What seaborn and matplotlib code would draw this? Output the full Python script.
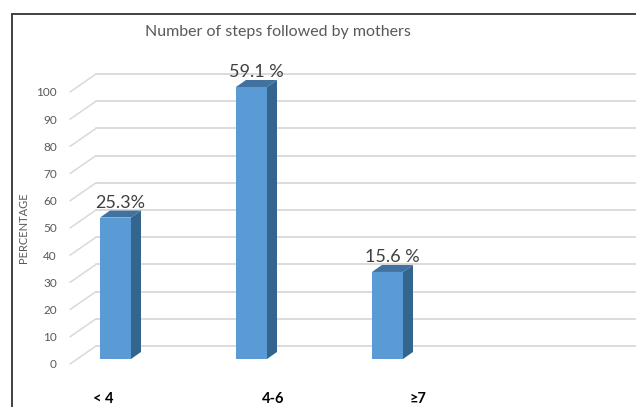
import matplotlib.pyplot as plt
from matplotlib.lines import Line2D
from matplotlib.patches import Polygon
from matplotlib.transforms import ScaledTranslation
import pandas as pd
import seaborn as sns

# chart data
categories = ["< 4", "4-6", "≥7"]
bar_heights = [52, 100, 32]
bar_labels = ["25.3%", "59.1 %", "15.6 %"]
y_ticks = list(range(0, 101, 10))
title = "Number of steps followed by mothers"
y_label = "PERCENTAGE"

# layout (pixels)
W, H, DPI = 636, 407, 100
PX_PER_CAT = 136
FIRST_BAR_X = 115.5
AX_LEFT, AX_RIGHT, AX_TOP, AX_BOTTOM = 70, 636, 92, 364
BAR_DEPTH = (10, 7)
WALL_DEPTH = (26, 18)
BAR_LIFT = 5
XLABEL_SHIFT = [-12, 22, 30]

FRONT, SIDE, TOP = "#5b9bd5", "#33658f", "#41729f"
GRID = "#d9d9d9"
TEXT = "#595959"

sns.set_style("white")
plt.rcParams["font.family"] = ["Lato", "DejaVu Sans"]

fig = plt.figure(figsize=(W / DPI, H / DPI), dpi=DPI)
ax = fig.add_axes([AX_LEFT / W, 1 - AX_BOTTOM / H,
                   (AX_RIGHT - AX_LEFT) / W, (AX_BOTTOM - AX_TOP) / H])

df = pd.DataFrame({"steps": categories, "pct": bar_heights})
sns.barplot(data=df, x="steps", y="pct", color=FRONT, saturation=1,
            width=31 / PX_PER_CAT, linewidth=0, ax=ax, zorder=2)

x0 = -(FIRST_BAR_X - AX_LEFT) / PX_PER_CAT
x1 = (AX_RIGHT - FIRST_BAR_X) / PX_PER_CAT
ax.set_xlim(x0, x1)
ax.set_ylim(0, 100)
px_y = 100 / (AX_BOTTOM - AX_TOP)

# back wall gridlines with the oblique floor edge
gdx, gdy = WALL_DEPTH[0] / PX_PER_CAT, WALL_DEPTH[1] * px_y
for v in y_ticks:
    ax.plot([x0, x0 + gdx], [v, v + gdy], color=GRID, lw=1.1, clip_on=False, zorder=0.5)
    ax.plot([x0 + gdx, x1], [v + gdy, v + gdy], color=GRID, lw=1.3, clip_on=False, zorder=0.5)

# 3D faces of the bars
lift = ScaledTranslation(0, BAR_LIFT / DPI, fig.dpi_scale_trans)
ddx, ddy = BAR_DEPTH[0] / PX_PER_CAT, BAR_DEPTH[1] * px_y
bars = list(ax.patches)
for bar, lbl in zip(bars, bar_labels):
    bar.set_transform(bar.get_data_transform() + lift)
    bar.set_clip_on(False)
    bx, bw, bh = bar.get_x(), bar.get_width(), bar.get_height()
    side = Polygon([(bx + bw, 0), (bx + bw + ddx, ddy), (bx + bw + ddx, bh + ddy), (bx + bw, bh)],
                   closed=True, facecolor=SIDE, edgecolor="none",
                   transform=ax.transData + lift, clip_on=False, zorder=2)
    top = Polygon([(bx, bh), (bx + ddx, bh + ddy), (bx + bw + ddx, bh + ddy), (bx + bw, bh)],
                  closed=True, facecolor=TOP, edgecolor="none",
                  transform=ax.transData + lift, clip_on=False, zorder=2)
    ax.add_patch(side)
    ax.add_patch(top)
    ax.text(bx + (bw + ddx) / 2, bh + ddy, lbl, ha="center", va="bottom",
            fontsize=13, color="#404040", clip_on=False,
            transform=ax.transData + lift)

sns.despine(ax=ax, left=True, bottom=True)
ax.set_xlabel("")
ax.set_ylabel("")
ax.set_yticks(y_ticks)
ax.tick_params(axis="y", length=0, pad=9.5, labelsize=8.5, labelcolor=TEXT)
ax.set_xticks(range(len(categories)))
ax.set_xticklabels(categories, fontsize=10.5, fontweight="bold", color="black")
ax.tick_params(axis="x", length=0, pad=20)
for tl, sh in zip(ax.get_xticklabels(), XLABEL_SHIFT):
    tl.set_transform(tl.get_transform() + ScaledTranslation(sh / DPI, 0, fig.dpi_scale_trans))

fig.text(278 / W, 1 - 32 / H, title, ha="center", va="center", fontsize=11.5, color=TEXT)
fig.text(24 / W, 1 - 228 / H, y_label, ha="center", va="center", rotation=90,
         fontsize=8, color=TEXT)

# chart area border
fig.add_artist(Line2D([12 / W, 12 / W], [0, 1 - 14 / H], color="#333333", lw=1.3))
fig.add_artist(Line2D([12 / W, 1], [1 - 14 / H, 1 - 14 / H], color="#333333", lw=1.3))

fig.savefig("out.png", dpi=DPI, facecolor="white")
